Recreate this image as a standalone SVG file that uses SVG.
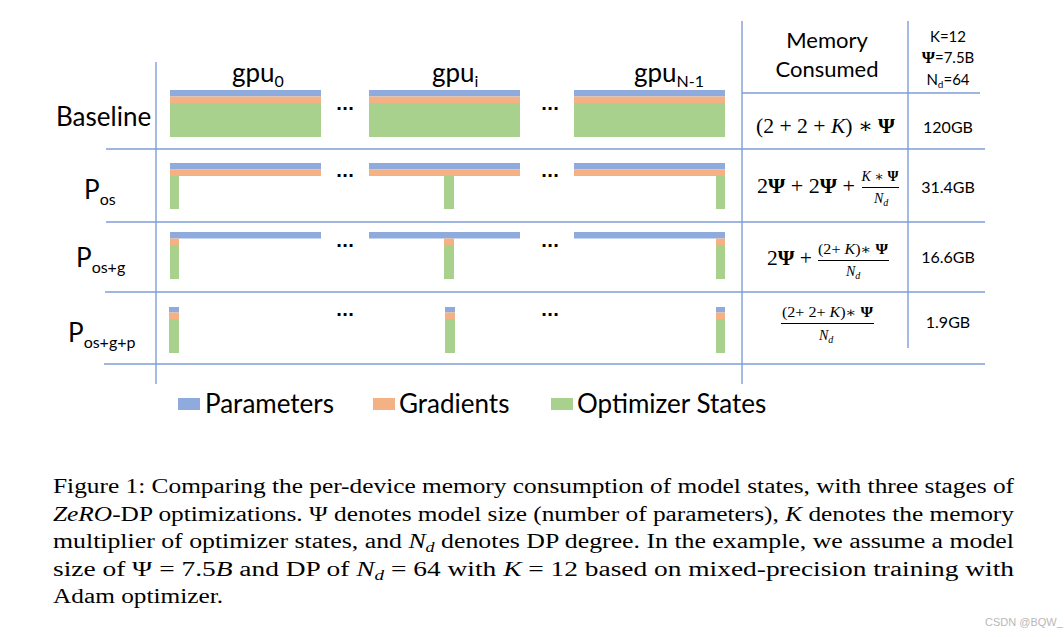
<svg xmlns="http://www.w3.org/2000/svg" width="1064" height="637" viewBox="0 0 1064 637">
<style>
.bg{fill:#ffffff}
.ln{stroke:#7f9ed8;stroke-width:1.4;fill:none}
.pb{fill:#8faadc}
.gb{fill:#f4b183}
.ob{fill:#a9d18e}
.lbl{font-family:Lato,"Open Sans","Liberation Sans",sans-serif;fill:#000}
.big{font-size:26px}
.gpu{font-size:26px}
.sub{font-size:16px}
.dots{font-family:"DejaVu Sans",sans-serif;font-size:16px;font-weight:bold;fill:#000;text-anchor:middle}
.hdr{font-size:22px;text-anchor:middle}
.par{font-size:15px;text-anchor:middle}
.gb16{font-size:16px;text-anchor:middle}
.math{font-family:"Liberation Serif","DejaVu Serif",serif;fill:#000}
.m20{font-size:21px}
.m14{font-size:14px}
.it{font-style:italic}
.bd{font-weight:bold}
.fr{stroke:#000;stroke-width:1.2}
.leg{font-size:26px}
.cap{font-family:"Liberation Serif","DejaVu Serif",serif;font-size:20px;fill:#000}
.wm{font-family:"Liberation Sans",sans-serif;font-size:11px;fill:#b8b8b8}
</style>
<rect class="bg" x="0" y="0" width="1064" height="637"/>

<g id="connectors">
<line class="ln" x1="156" y1="62" x2="156" y2="384"/>
<line class="ln" x1="742" y1="21" x2="742" y2="384"/>
<line class="ln" x1="908" y1="21" x2="908" y2="348"/>
<line class="ln" x1="742" y1="93" x2="980" y2="93"/>
<line class="ln" x1="106" y1="149" x2="985" y2="149"/>
<line class="ln" x1="106" y1="222" x2="985" y2="222"/>
<line class="ln" x1="105" y1="292" x2="985" y2="292"/>
<line class="ln" x1="104" y1="364" x2="985" y2="364"/>
</g>

<g id="gpu-headers">
<text class="lbl gpu" x="232" y="82">gpu<tspan class="sub" dy="5">0</tspan></text>
<text class="lbl gpu" x="432" y="82">gpu<tspan class="sub" dy="5">i</tspan></text>
<text class="lbl gpu" x="634" y="82">gpu<tspan class="sub" dy="5">N-1</tspan></text>
</g>

<g id="row-labels">
<text class="lbl big" x="56" y="126">Baseline</text>
<text class="lbl big" x="84" y="199">P<tspan class="sub" dy="6">os</tspan></text>
<text class="lbl big" x="76" y="267">P<tspan class="sub" dy="6">os+g</tspan></text>
<text class="lbl big" x="68" y="342">P<tspan class="sub" dy="6">os+g+p</tspan></text>
</g>

<g id="row-baseline">
<rect class="pb" x="170" y="90" width="151" height="6.5"/><rect class="gb" x="170" y="96.5" width="151" height="6.5"/><rect class="ob" x="170" y="103" width="151" height="34"/>
<rect class="pb" x="369" y="90" width="151" height="6.5"/><rect class="gb" x="369" y="96.5" width="151" height="6.5"/><rect class="ob" x="369" y="103" width="151" height="34"/>
<rect class="pb" x="574" y="90" width="151" height="6.5"/><rect class="gb" x="574" y="96.5" width="151" height="6.5"/><rect class="ob" x="574" y="103" width="151" height="34"/>
<text class="dots" x="345" y="114">···</text>
<text class="dots" x="550" y="114">···</text>
</g>

<g id="row-pos">
<rect class="pb" x="170" y="163" width="151" height="6.5"/><rect class="gb" x="170" y="169.5" width="151" height="6.5"/><rect class="ob" x="170" y="176" width="9" height="33"/>
<rect class="pb" x="369" y="163" width="151" height="6.5"/><rect class="gb" x="369" y="169.5" width="151" height="6.5"/><rect class="ob" x="444" y="176" width="10" height="33"/>
<rect class="pb" x="574" y="163" width="151" height="6.5"/><rect class="gb" x="574" y="169.5" width="151" height="6.5"/><rect class="ob" x="716" y="176" width="9" height="33"/>
<text class="dots" x="345" y="181">···</text>
<text class="dots" x="550" y="181">···</text>
</g>

<g id="row-posg">
<rect class="pb" x="170" y="232" width="151" height="6.5"/><rect class="gb" x="170" y="238.5" width="9" height="6.5"/><rect class="ob" x="170" y="245" width="9" height="34"/>
<rect class="pb" x="369" y="232" width="151" height="6.5"/><rect class="gb" x="444" y="238.5" width="10" height="6.5"/><rect class="ob" x="444" y="245" width="10" height="34"/>
<rect class="pb" x="574" y="232" width="151" height="6.5"/><rect class="gb" x="716" y="238.5" width="9" height="6.5"/><rect class="ob" x="716" y="245" width="9" height="34"/>
<text class="dots" x="345" y="251">···</text>
<text class="dots" x="550" y="251">···</text>
</g>

<g id="row-posgp">
<rect class="pb" x="169" y="307" width="10" height="5.5"/><rect class="gb" x="169" y="312.5" width="10" height="6.5"/><rect class="ob" x="169" y="319" width="10" height="34"/>
<rect class="pb" x="445" y="307" width="10" height="5.5"/><rect class="gb" x="445" y="312.5" width="10" height="6.5"/><rect class="ob" x="445" y="319" width="10" height="34"/>
<rect class="pb" x="716" y="307" width="9" height="5.5"/><rect class="gb" x="716" y="312.5" width="9" height="6.5"/><rect class="ob" x="716" y="319" width="9" height="34"/>
<text class="dots" x="345" y="320">···</text>
<text class="dots" x="550" y="320">···</text>
</g>

<g id="memory-header">
<text class="lbl hdr" x="827" y="48">Memory</text>
<text class="lbl hdr" x="827" y="77">Consumed</text>
</g>

<g id="params-header">
<text class="lbl par" x="948" y="42">K=12</text>
<text class="lbl par" x="948" y="63"><tspan class="math bd" font-size="17">Ψ</tspan>=7.5B</text>
<text class="lbl par" x="948" y="85">N<tspan font-size="10" dy="3">d</tspan><tspan dy="-3">=64</tspan></text>
</g>

<g id="formula-baseline">
<text class="math m20" x="756" y="133" textLength="139" lengthAdjust="spacingAndGlyphs">(2 + 2 + <tspan class="it">K</tspan>) ∗ <tspan class="bd">Ψ</tspan></text>
<text class="lbl gb16" x="948" y="133">120GB</text>
</g>

<g id="formula-pos">
<text class="math m20" x="757" y="193" textLength="98" lengthAdjust="spacingAndGlyphs">2<tspan class="bd">Ψ</tspan> + 2<tspan class="bd">Ψ</tspan> +</text>
<text class="math m14" x="880" y="181" text-anchor="middle"><tspan class="it">K</tspan> ∗ <tspan class="bd">Ψ</tspan></text>
<line class="fr" x1="862" y1="187.5" x2="899" y2="187.5"/>
<text class="math m14 it" x="874" y="203">N<tspan font-size="10" dy="3">d</tspan></text>
<text class="lbl gb16" x="948" y="193">31.4GB</text>
</g>

<g id="formula-posg">
<text class="math m20" x="767" y="265" textLength="45" lengthAdjust="spacingAndGlyphs">2<tspan class="bd">Ψ</tspan> +</text>
<text class="math m14" x="818" y="254" textLength="70" lengthAdjust="spacingAndGlyphs">(2+ <tspan class="it">K</tspan>)∗ <tspan class="bd">Ψ</tspan></text>
<line class="fr" x1="818" y1="260.5" x2="889" y2="260.5"/>
<text class="math m14 it" x="846" y="276">N<tspan font-size="10" dy="3">d</tspan></text>
<text class="lbl gb16" x="948" y="263">16.6GB</text>
</g>

<g id="formula-posgp">
<text class="math m14" x="782" y="317" textLength="91" lengthAdjust="spacingAndGlyphs">(2+ 2+ <tspan class="it">K</tspan>)∗ <tspan class="bd">Ψ</tspan></text>
<line class="fr" x1="781" y1="323.5" x2="874" y2="323.5"/>
<text class="math m14 it" x="819" y="340">N<tspan font-size="10" dy="3">d</tspan></text>
<text class="lbl gb16" x="948" y="328">1.9GB</text>
</g>

<g id="legend">
<rect class="pb" x="178" y="398" width="22" height="12"/>
<text class="lbl leg" x="205" y="413">Parameters</text>
<rect class="gb" x="373" y="398" width="22" height="12"/>
<text class="lbl leg" x="399" y="413">Gradients</text>
<rect class="ob" x="551" y="398" width="22" height="12"/>
<text class="lbl leg" x="577" y="413">Optimizer States</text>
</g>

<g id="caption">
<text class="cap" x="53" y="493" textLength="961" lengthAdjust="spacingAndGlyphs">Figure 1: Comparing the per-device memory consumption of model states, with three stages of</text>
<text class="cap" x="53" y="521" textLength="961" lengthAdjust="spacingAndGlyphs"><tspan font-style="italic">ZeRO</tspan>-DP optimizations. Ψ denotes model size (number of parameters), <tspan font-style="italic">K</tspan> denotes the memory</text>
<text class="cap" x="53" y="548" textLength="961" lengthAdjust="spacingAndGlyphs">multiplier of optimizer states, and <tspan font-style="italic">N</tspan><tspan font-style="italic" font-size="14" dy="4">d</tspan><tspan dy="-4"> denotes DP degree. In the example, we assume a model</tspan></text>
<text class="cap" x="53" y="576" textLength="961" lengthAdjust="spacingAndGlyphs">size of Ψ = 7.5<tspan font-style="italic">B</tspan> and DP of <tspan font-style="italic">N</tspan><tspan font-style="italic" font-size="14" dy="4">d</tspan><tspan dy="-4"> = 64 with </tspan><tspan font-style="italic">K</tspan> = 12 based on mixed-precision training with</text>
<text class="cap" x="53" y="603" textLength="170" lengthAdjust="spacingAndGlyphs">Adam optimizer.</text>
</g>

<text class="wm" x="985" y="626">CSDN @BQW_</text>
</svg>
